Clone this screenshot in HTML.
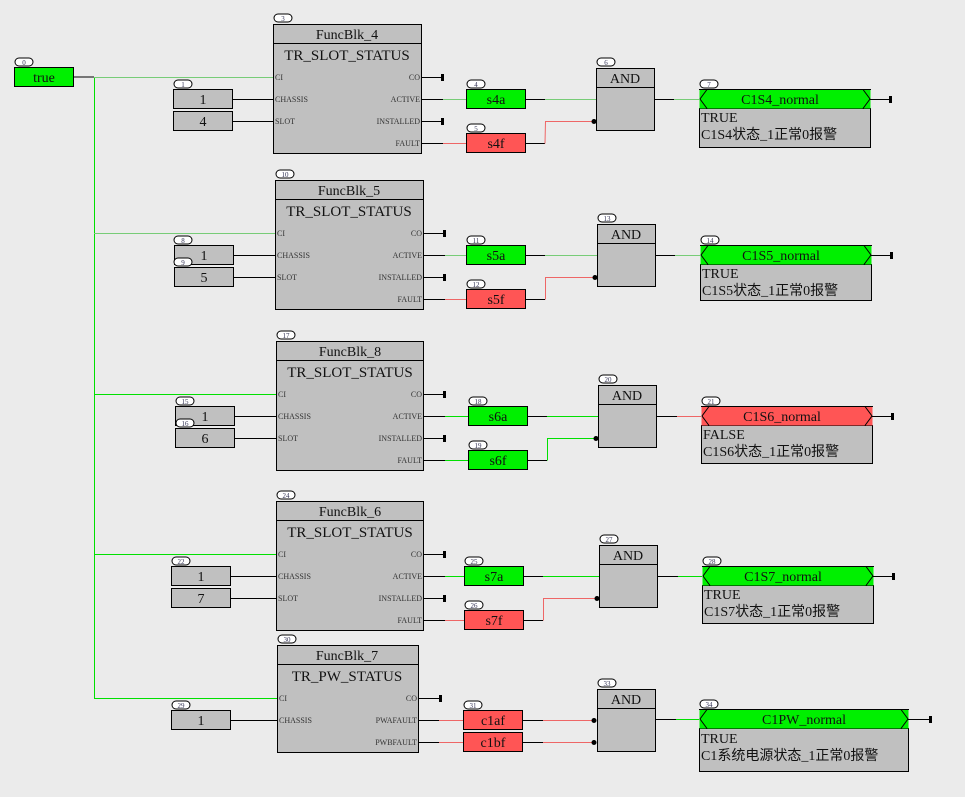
<!DOCTYPE html>
<html><head><meta charset="utf-8"><style>
html,body{margin:0;padding:0;background:#ebebeb;}
svg{display:block}
text{font-family:"Liberation Serif","Noto Serif CJK SC","Noto Sans CJK SC",serif;fill:#111}
.t{font-size:14px;text-anchor:middle}
.ty{font-size:15px;text-anchor:middle}
.p{font-size:8px;fill:#333}
.pr{font-size:8px;fill:#333;text-anchor:end}
.b{font-size:7px;text-anchor:middle;fill:#335}
.cn{font-family:"Liberation Serif","Noto Sans CJK SC",sans-serif;font-size:14px}
.box{fill:#c0c0c0;stroke:#000;stroke-width:1}
.g{fill:#00f000;stroke:#000}
.r{fill:#ff5555;stroke:#000}
.bd{fill:#fff;stroke:#000}
</style></head><body>
<svg width="965" height="797" viewBox="0 0 965 797" xmlns="http://www.w3.org/2000/svg">
<rect width="965" height="797" fill="#ebebeb"/>
<!-- true -->
<rect x="15" y="58" width="18" height="8" rx="4" class="bd"/><text x="24" y="65" class="b">0</text>
<rect x="14.5" y="67.5" width="59" height="19" class="g"/><text x="44" y="82" class="t">true</text>
<line x1="73" y1="77" x2="94" y2="77" stroke="#000"/>
<line x1="94.5" y1="77" x2="94.5" y2="698" stroke="#00e000"/>

<!-- ROW TEMPLATE rows 1-4 -->
<g id="row1">
<line x1="94" y1="77.5" x2="273" y2="77.5" stroke="#7c7"/>
<rect x="274" y="14" width="18" height="8" rx="4" class="bd"/><text x="283" y="21" class="b">3</text>
<rect x="273.5" y="24.5" width="148" height="129" class="box"/><line x1="273" y1="43.5" x2="421" y2="43.5" stroke="#000"/>
<text x="347" y="39" class="t">FuncBlk_4</text><text x="347" y="60" class="ty">TR_SLOT_STATUS</text>
<text x="275" y="80" class="p">CI</text><text x="275" y="102" class="p">CHASSIS</text><text x="275" y="124" class="p">SLOT</text>
<text x="420" y="80" class="pr">CO</text><text x="420" y="102" class="pr">ACTIVE</text><text x="420" y="124" class="pr">INSTALLED</text><text x="420" y="146" class="pr">FAULT</text>
<rect x="174" y="80" width="18" height="8" rx="4" class="bd"/><text x="183" y="87" class="b">1</text>
<rect x="173.5" y="89.5" width="59" height="19" class="box"/><text x="203" y="104" class="t">1</text>
<rect x="173.5" y="111.5" width="59" height="19" class="box"/><text x="203" y="126" class="t">4</text>
<line x1="232" y1="99.5" x2="273" y2="99.5" stroke="#000"/><line x1="232" y1="121.5" x2="273" y2="121.5" stroke="#000"/>
<line x1="421" y1="77.5" x2="443" y2="77.5" stroke="#000"/><rect x="441" y="74" width="3" height="7" fill="#000"/>
<line x1="421" y1="121.5" x2="443" y2="121.5" stroke="#000"/><rect x="441" y="118" width="3" height="7" fill="#000"/>
<line x1="421" y1="99.5" x2="443" y2="99.5" stroke="#000"/><line x1="443" y1="99.5" x2="466" y2="99.5" stroke="#7c7"/>
<line x1="421" y1="143.5" x2="443" y2="143.5" stroke="#000"/><line x1="443" y1="143.5" x2="466" y2="143.5" stroke="#e66"/>
<rect x="467" y="80" width="18" height="8" rx="4" class="bd"/><text x="476" y="87" class="b">4</text>
<rect x="466.5" y="89.5" width="59" height="19" class="g"/><text x="496" y="104" class="t">s4a</text>
<rect x="467" y="124" width="18" height="8" rx="4" class="bd"/><text x="476" y="131" class="b">5</text>
<rect x="466.5" y="133.5" width="59" height="19" class="r"/><text x="496" y="148" class="t">s4f</text>
<line x1="525" y1="99.5" x2="545" y2="99.5" stroke="#000"/><line x1="545" y1="99.5" x2="596" y2="99.5" stroke="#7c7"/>
<line x1="525" y1="143.5" x2="545" y2="143.5" stroke="#000"/><polyline points="545,143.5 545.5,121.5 594,121.5" fill="none" stroke="#e66"/><circle cx="594" cy="121.5" r="2.5" fill="#000"/>
<rect x="597" y="58" width="18" height="8" rx="4" class="bd"/><text x="606" y="65" class="b">6</text>
<rect x="596.5" y="68.5" width="58" height="62" class="box"/><line x1="596" y1="87.5" x2="654" y2="87.5" stroke="#000"/>
<text x="625" y="83" class="t">AND</text>
<line x1="654" y1="99.5" x2="674" y2="99.5" stroke="#000"/><line x1="674" y1="99.5" x2="699" y2="99.5" stroke="#7c7"/>
<rect x="700" y="80" width="18" height="8" rx="4" class="bd"/><text x="709" y="87" class="b">7</text>
<rect x="699.5" y="108.5" width="171" height="39" class="box"/>
<rect x="699.5" y="89.5" width="171" height="19" fill="#00f000" stroke="none"/>
<line x1="699" y1="89.5" x2="871" y2="89.5" stroke="#000"/>
<polyline points="707,89.5 700,99 707,108.5" fill="none" stroke="#000"/><polyline points="863,89.5 870,99 863,108.5" fill="none" stroke="#000"/>
<text x="780" y="104" class="t">C1S4_normal</text>
<text x="701" y="122" class="cn">TRUE</text><text x="701" y="139" class="cn">C1S4状态_1正常0报警</text>
<line x1="870" y1="99.5" x2="890" y2="99.5" stroke="#000"/><rect x="889" y="96" width="3" height="7" fill="#000"/>
</g>

<!-- ROW 2 -->
<g transform="translate(2,156)">
<line x1="92" y1="77.5" x2="273" y2="77.5" stroke="#7c7"/>
<rect x="274" y="14" width="18" height="8" rx="4" class="bd"/><text x="283" y="21" class="b">10</text>
<rect x="273.5" y="24.5" width="148" height="129" class="box"/><line x1="273" y1="43.5" x2="421" y2="43.5" stroke="#000"/>
<text x="347" y="39" class="t">FuncBlk_5</text><text x="347" y="60" class="ty">TR_SLOT_STATUS</text>
<text x="275" y="80" class="p">CI</text><text x="275" y="102" class="p">CHASSIS</text><text x="275" y="124" class="p">SLOT</text>
<text x="420" y="80" class="pr">CO</text><text x="420" y="102" class="pr">ACTIVE</text><text x="420" y="124" class="pr">INSTALLED</text><text x="420" y="146" class="pr">FAULT</text>
<rect x="172" y="80" width="18" height="8" rx="4" class="bd"/><text x="181" y="87" class="b">8</text>
<rect x="172.5" y="89.5" width="59" height="19" class="box"/><text x="202" y="104" class="t">1</text>
<rect x="172" y="102" width="18" height="8" rx="4" class="bd"/><text x="181" y="109" class="b">9</text>
<rect x="172.5" y="111.5" width="59" height="19" class="box"/><text x="202" y="126" class="t">5</text>
<line x1="231" y1="99.5" x2="273" y2="99.5" stroke="#000"/><line x1="231" y1="121.5" x2="273" y2="121.5" stroke="#000"/>
<line x1="421" y1="77.5" x2="443" y2="77.5" stroke="#000"/><rect x="441" y="74" width="3" height="7" fill="#000"/>
<line x1="421" y1="121.5" x2="443" y2="121.5" stroke="#000"/><rect x="441" y="118" width="3" height="7" fill="#000"/>
<line x1="421" y1="99.5" x2="443" y2="99.5" stroke="#000"/><line x1="443" y1="99.5" x2="464" y2="99.5" stroke="#7c7"/>
<line x1="421" y1="143.5" x2="443" y2="143.5" stroke="#000"/><line x1="443" y1="143.5" x2="464" y2="143.5" stroke="#e66"/>
<rect x="465" y="80" width="18" height="8" rx="4" class="bd"/><text x="474" y="87" class="b">11</text>
<rect x="464.5" y="89.5" width="59" height="19" class="g"/><text x="494" y="104" class="t">s5a</text>
<rect x="465" y="124" width="18" height="8" rx="4" class="bd"/><text x="474" y="131" class="b">12</text>
<rect x="464.5" y="133.5" width="59" height="19" class="r"/><text x="494" y="148" class="t">s5f</text>
<line x1="523" y1="99.5" x2="543" y2="99.5" stroke="#000"/><line x1="543" y1="99.5" x2="595" y2="99.5" stroke="#7c7"/>
<line x1="523" y1="143.5" x2="543" y2="143.5" stroke="#000"/><polyline points="543.5,143.5 543.5,121.5 593,121.5" fill="none" stroke="#e66"/><circle cx="593" cy="121.5" r="2.5" fill="#000"/>
<rect x="596" y="58" width="18" height="8" rx="4" class="bd"/><text x="605" y="65" class="b">13</text>
<rect x="595.5" y="68.5" width="58" height="62" class="box"/><line x1="595" y1="87.5" x2="653" y2="87.5" stroke="#000"/>
<text x="624" y="83" class="t">AND</text>
<line x1="653" y1="99.5" x2="673" y2="99.5" stroke="#000"/><line x1="673" y1="99.5" x2="698" y2="99.5" stroke="#7c7"/>
<rect x="699" y="80" width="18" height="8" rx="4" class="bd"/><text x="708" y="87" class="b">14</text>
<rect x="698.5" y="108.5" width="171" height="36" class="box"/>
<rect x="698.5" y="89.5" width="171" height="19" fill="#00f000" stroke="none"/>
<line x1="698" y1="89.5" x2="870" y2="89.5" stroke="#000"/>
<polyline points="706,89.5 699,99 706,108.5" fill="none" stroke="#000"/><polyline points="862,89.5 869,99 862,108.5" fill="none" stroke="#000"/>
<text x="779" y="104" class="t">C1S5_normal</text>
<text x="700" y="122" class="cn">TRUE</text><text x="700" y="139" class="cn">C1S5状态_1正常0报警</text>
<line x1="869" y1="99.5" x2="889" y2="99.5" stroke="#000"/><rect x="888" y="96" width="3" height="7" fill="#000"/>
</g>

<!-- ROW 3 -->
<g transform="translate(3,317)">
<line x1="91" y1="77.5" x2="273" y2="77.5" stroke="#00e000"/>
<rect x="274" y="14" width="18" height="8" rx="4" class="bd"/><text x="283" y="21" class="b">17</text>
<rect x="273.5" y="24.5" width="147" height="129" class="box"/><line x1="273" y1="43.5" x2="420" y2="43.5" stroke="#000"/>
<text x="347" y="39" class="t">FuncBlk_8</text><text x="347" y="60" class="ty">TR_SLOT_STATUS</text>
<text x="275" y="80" class="p">CI</text><text x="275" y="102" class="p">CHASSIS</text><text x="275" y="124" class="p">SLOT</text>
<text x="419" y="80" class="pr">CO</text><text x="419" y="102" class="pr">ACTIVE</text><text x="419" y="124" class="pr">INSTALLED</text><text x="419" y="146" class="pr">FAULT</text>
<rect x="173" y="80" width="18" height="8" rx="4" class="bd"/><text x="182" y="87" class="b">15</text>
<rect x="172.5" y="89.5" width="59" height="19" class="box"/><text x="202" y="104" class="t">1</text>
<rect x="173" y="102" width="18" height="8" rx="4" class="bd"/><text x="182" y="109" class="b">16</text>
<rect x="172.5" y="111.5" width="59" height="19" class="box"/><text x="202" y="126" class="t">6</text>
<line x1="231" y1="99.5" x2="273" y2="99.5" stroke="#000"/><line x1="231" y1="121.5" x2="273" y2="121.5" stroke="#000"/>
<line x1="420" y1="77.5" x2="442" y2="77.5" stroke="#000"/><rect x="440" y="74" width="3" height="7" fill="#000"/>
<line x1="420" y1="121.5" x2="442" y2="121.5" stroke="#000"/><rect x="440" y="118" width="3" height="7" fill="#000"/>
<line x1="420" y1="99.5" x2="442" y2="99.5" stroke="#000"/><line x1="442" y1="99.5" x2="465" y2="99.5" stroke="#00e000"/>
<line x1="420" y1="143.5" x2="442" y2="143.5" stroke="#000"/><line x1="442" y1="143.5" x2="465" y2="143.5" stroke="#00e000"/>
<rect x="466" y="80" width="18" height="8" rx="4" class="bd"/><text x="475" y="87" class="b">18</text>
<rect x="465.5" y="89.5" width="59" height="19" class="g"/><text x="495" y="104" class="t">s6a</text>
<rect x="466" y="124" width="18" height="8" rx="4" class="bd"/><text x="475" y="131" class="b">19</text>
<rect x="465.5" y="133.5" width="59" height="19" class="g"/><text x="495" y="148" class="t">s6f</text>
<line x1="524" y1="99.5" x2="544" y2="99.5" stroke="#000"/><line x1="544" y1="99.5" x2="595" y2="99.5" stroke="#00e000"/>
<line x1="524" y1="143.5" x2="544" y2="143.5" stroke="#000"/><polyline points="544.5,143.5 544.5,121.5 593,121.5" fill="none" stroke="#00e000"/><circle cx="593" cy="121.5" r="2.5" fill="#000"/>
<rect x="596" y="58" width="18" height="8" rx="4" class="bd"/><text x="605" y="65" class="b">20</text>
<rect x="595.5" y="68.5" width="58" height="62" class="box"/><line x1="595" y1="87.5" x2="653" y2="87.5" stroke="#000"/>
<text x="624" y="83" class="t">AND</text>
<line x1="653" y1="99.5" x2="674" y2="99.5" stroke="#000"/><line x1="674" y1="99.5" x2="698" y2="99.5" stroke="#e66"/>
<rect x="699" y="80" width="18" height="8" rx="4" class="bd"/><text x="708" y="87" class="b">21</text>
<rect x="698.5" y="108.5" width="171" height="38" class="box"/>
<rect x="698.5" y="89.5" width="171" height="19" fill="#ff5555" stroke="none"/>
<line x1="698" y1="89.5" x2="870" y2="89.5" stroke="#000"/>
<polyline points="706,89.5 699,99 706,108.5" fill="none" stroke="#000"/><polyline points="862,89.5 869,99 862,108.5" fill="none" stroke="#000"/>
<text x="779" y="104" class="t">C1S6_normal</text>
<text x="700" y="122" class="cn">FALSE</text><text x="700" y="139" class="cn">C1S6状态_1正常0报警</text>
<line x1="869" y1="99.5" x2="889" y2="99.5" stroke="#000"/><rect x="888" y="96" width="3" height="7" fill="#000"/>
</g>

<!-- ROW 4 -->
<g transform="translate(3,477)">
<line x1="91" y1="77.5" x2="273" y2="77.5" stroke="#00e000"/>
<rect x="274" y="14" width="18" height="8" rx="4" class="bd"/><text x="283" y="21" class="b">24</text>
<rect x="273.5" y="24.5" width="147" height="129" class="box"/><line x1="273" y1="43.5" x2="420" y2="43.5" stroke="#000"/>
<text x="347" y="39" class="t">FuncBlk_6</text><text x="347" y="60" class="ty">TR_SLOT_STATUS</text>
<text x="275" y="80" class="p">CI</text><text x="275" y="102" class="p">CHASSIS</text><text x="275" y="124" class="p">SLOT</text>
<text x="419" y="80" class="pr">CO</text><text x="419" y="102" class="pr">ACTIVE</text><text x="419" y="124" class="pr">INSTALLED</text><text x="419" y="146" class="pr">FAULT</text>
<rect x="169" y="80" width="18" height="8" rx="4" class="bd"/><text x="178" y="87" class="b">22</text>
<rect x="168.5" y="89.5" width="59" height="19" class="box"/><text x="198" y="104" class="t">1</text>
<rect x="168.5" y="111.5" width="59" height="19" class="box"/><text x="198" y="126" class="t">7</text>
<line x1="227" y1="99.5" x2="273" y2="99.5" stroke="#000"/><line x1="227" y1="121.5" x2="273" y2="121.5" stroke="#000"/>
<line x1="420" y1="77.5" x2="442" y2="77.5" stroke="#000"/><rect x="440" y="74" width="3" height="7" fill="#000"/>
<line x1="420" y1="121.5" x2="442" y2="121.5" stroke="#000"/><rect x="440" y="118" width="3" height="7" fill="#000"/>
<line x1="420" y1="99.5" x2="442" y2="99.5" stroke="#000"/><line x1="442" y1="99.5" x2="461" y2="99.5" stroke="#00e000"/>
<line x1="420" y1="143.5" x2="442" y2="143.5" stroke="#000"/><line x1="442" y1="143.5" x2="461" y2="143.5" stroke="#e66"/>
<rect x="462" y="80" width="18" height="8" rx="4" class="bd"/><text x="471" y="87" class="b">25</text>
<rect x="461.5" y="89.5" width="59" height="19" class="g"/><text x="491" y="104" class="t">s7a</text>
<rect x="462" y="124" width="18" height="8" rx="4" class="bd"/><text x="471" y="131" class="b">26</text>
<rect x="461.5" y="133.5" width="59" height="19" class="r"/><text x="491" y="148" class="t">s7f</text>
<line x1="520" y1="99.5" x2="540" y2="99.5" stroke="#000"/><line x1="540" y1="99.5" x2="596" y2="99.5" stroke="#00e000"/>
<line x1="520" y1="143.5" x2="540" y2="143.5" stroke="#000"/><polyline points="540.5,143.5 540.5,121.5 594,121.5" fill="none" stroke="#e66"/><circle cx="594" cy="121.5" r="2.5" fill="#000"/>
<rect x="597" y="58" width="18" height="8" rx="4" class="bd"/><text x="606" y="65" class="b">27</text>
<rect x="596.5" y="68.5" width="58" height="62" class="box"/><line x1="596" y1="87.5" x2="654" y2="87.5" stroke="#000"/>
<text x="625" y="83" class="t">AND</text>
<line x1="654" y1="99.5" x2="675" y2="99.5" stroke="#000"/><line x1="675" y1="99.5" x2="699" y2="99.5" stroke="#00e000"/>
<rect x="700" y="80" width="18" height="8" rx="4" class="bd"/><text x="709" y="87" class="b">28</text>
<rect x="699.5" y="108.5" width="171" height="38" class="box"/>
<rect x="699.5" y="89.5" width="171" height="19" fill="#00f000" stroke="none"/>
<line x1="699" y1="89.5" x2="871" y2="89.5" stroke="#000"/>
<polyline points="707,89.5 700,99 707,108.5" fill="none" stroke="#000"/><polyline points="863,89.5 870,99 863,108.5" fill="none" stroke="#000"/>
<text x="780" y="104" class="t">C1S7_normal</text>
<text x="701" y="122" class="cn">TRUE</text><text x="701" y="139" class="cn">C1S7状态_1正常0报警</text>
<line x1="870" y1="99.5" x2="890" y2="99.5" stroke="#000"/><rect x="889" y="96" width="3" height="7" fill="#000"/>
</g>

<!-- ROW 5 -->
<line x1="94" y1="698.5" x2="277" y2="698.5" stroke="#00e000"/>
<rect x="278" y="635" width="18" height="8" rx="4" class="bd"/><text x="287" y="642" class="b">30</text>
<rect x="277.5" y="645.5" width="141" height="107" class="box"/><line x1="277" y1="664.5" x2="418" y2="664.5" stroke="#000"/>
<text x="347" y="660" class="t">FuncBlk_7</text><text x="347" y="681" class="ty">TR_PW_STATUS</text>
<text x="279" y="701" class="p">CI</text><text x="279" y="723" class="p">CHASSIS</text>
<text x="417" y="701" class="pr">CO</text><text x="417" y="723" class="pr">PWAFAULT</text><text x="417" y="745" class="pr">PWBFAULT</text>
<rect x="172" y="701" width="18" height="8" rx="4" class="bd"/><text x="181" y="708" class="b">29</text>
<rect x="171.5" y="710.5" width="59" height="19" class="box"/><text x="201" y="725" class="t">1</text>
<line x1="230" y1="720.5" x2="277" y2="720.5" stroke="#000"/>
<line x1="418" y1="698.5" x2="440" y2="698.5" stroke="#000"/><rect x="439" y="695" width="3" height="7" fill="#000"/>
<line x1="418" y1="720.5" x2="439" y2="720.5" stroke="#000"/><line x1="439" y1="720.5" x2="463" y2="720.5" stroke="#e66"/>
<line x1="418" y1="742.5" x2="439" y2="742.5" stroke="#000"/><line x1="439" y1="742.5" x2="463" y2="742.5" stroke="#e66"/>
<rect x="464" y="701" width="18" height="8" rx="4" class="bd"/><text x="473" y="708" class="b">31</text>
<rect x="463.5" y="710.5" width="59" height="19" class="r"/><text x="493" y="725" class="t">c1af</text>
<rect x="463.5" y="732.5" width="59" height="19" class="r"/><text x="493" y="747" class="t">c1bf</text>
<line x1="522" y1="720.5" x2="543" y2="720.5" stroke="#000"/><line x1="543" y1="720.5" x2="594" y2="720.5" stroke="#e66"/><circle cx="594" cy="720.5" r="2.5" fill="#000"/>
<line x1="522" y1="742.5" x2="543" y2="742.5" stroke="#000"/><line x1="543" y1="742.5" x2="594" y2="742.5" stroke="#e66"/><circle cx="594" cy="742.5" r="2.5" fill="#000"/>
<rect x="598" y="679" width="18" height="8" rx="4" class="bd"/><text x="607" y="686" class="b">33</text>
<rect x="597.5" y="689.5" width="58" height="62" class="box"/><line x1="597" y1="708.5" x2="655" y2="708.5" stroke="#000"/>
<text x="626" y="704" class="t">AND</text>
<line x1="655" y1="719.5" x2="676" y2="719.5" stroke="#000"/><line x1="676" y1="719.5" x2="699" y2="719.5" stroke="#00e000"/>
<rect x="700" y="700" width="18" height="8" rx="4" class="bd"/><text x="709" y="707" class="b">34</text>
<rect x="699.5" y="728.5" width="209" height="43" class="box"/>
<rect x="699.5" y="709.5" width="209" height="19" fill="#00f000" stroke="none"/>
<line x1="699" y1="709.5" x2="909" y2="709.5" stroke="#000"/>
<polyline points="707,709.5 700,719 707,728.5" fill="none" stroke="#000"/><polyline points="901,709.5 908,719 901,728.5" fill="none" stroke="#000"/>
<text x="804" y="724" class="t">C1PW_normal</text>
<text x="701" y="743" class="cn">TRUE</text><text x="701" y="760" class="cn">C1系统电源状态_1正常0报警</text>
<line x1="908" y1="719.5" x2="930" y2="719.5" stroke="#000"/><rect x="929" y="716" width="3" height="7" fill="#000"/>
</svg>
</body></html>
